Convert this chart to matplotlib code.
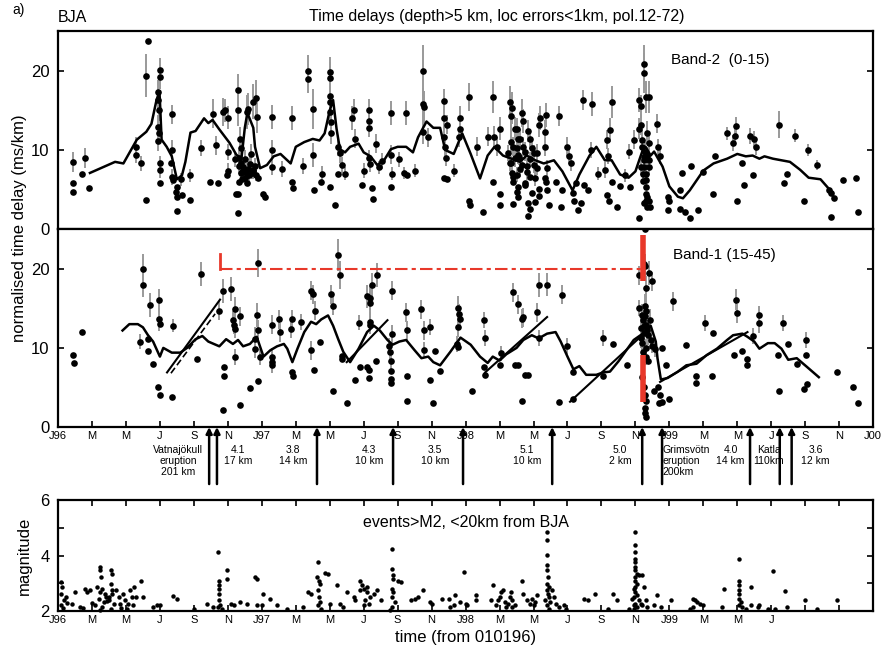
import numpy as np
import matplotlib
matplotlib.use('Agg')
import matplotlib.pyplot as plt

plt.rcParams['font.family'] = ['Liberation Sans', 'DejaVu Sans']

# time axis in months since 01.01.1996
xtick_pos = list(range(0, 49, 2))
xtick_lab = ['J96', 'M', 'M', 'J', 'S', 'N', 'J97', 'M', 'M', 'J', 'S', 'N',
             'J98', 'M', 'M', 'J', 'S', 'N', 'J99', 'M', 'M', 'J', 'S', 'N', 'J00']
xtick_lab_mag = xtick_lab[:22] + ['', '', '']

# Band-2 (0-15): (month, delay, error half length)
band2_pts = [
    (0.87, 5.8, 0), (0.87, 4.7, 0), (0.9, 8.5, 1.3), (1.4, 7.0, 0), (1.6, 9.0, 1.3), (1.8, 5.2, 0),
    (4.6, 9.4, 1.0), (4.6, 10.4, 1.2), (4.9, 8.3, 1.0), (5.2, 19.4, 2.7), (5.3, 23.8, 0), (5.2, 3.7, 0),
    (5.9, 17.3, 1.5), (5.9, 16.3, 1.5), (5.95, 15.1, 1.5), (6.0, 20.1, 1.5), (6.0, 19.2, 1.5),
    (5.9, 12.9, 1.5), (5.95, 12.1, 1.2), (5.9, 11.1, 1.2), (6.0, 8.3, 1.0), (6.0, 7.5, 1.0), (6.0, 5.8, 0),
    (6.7, 14.5, 1.2), (6.7, 10.0, 1.2), (6.65, 8.3, 0), (6.7, 6.6, 1.0), (6.75, 6.2, 0),
    (7.0, 5.3, 0), (7.0, 4.1, 0), (7.0, 2.3, 0), (6.95, 4.7, 0), (7.25, 6.3, 0.8), (7.3, 4.3, 0),
    (7.8, 6.8, 0.8), (7.75, 3.7, 0), (8.4, 10.2, 1.0), (8.95, 6.0, 0), (9.4, 5.8, 0), (9.3, 10.6, 1.2),
    (9.1, 14.6, 1.8), (9.7, 14.8, 1.8), (9.85, 15.0, 1.5),
    (10.0, 14.1, 1.5), (10.0, 9.7, 1.0), (10.0, 7.4, 1.0), (9.95, 6.9, 0),
    (10.6, 15.0, 2.0), (10.6, 17.6, 2.0), (10.6, 4.5, 0), (10.6, 2.1, 0),
    (10.7, 11.4, 1.5), (10.75, 10.2, 1.2), (10.65, 9.0, 1.0), (10.8, 8.4, 1.0), (10.9, 7.8, 1.0),
    (10.85, 7.2, 0.8), (11.0, 8.8, 1.2), (11.0, 6.5, 0.8), (11.1, 5.8, 0), (11.2, 7.6, 1.0),
    (11.3, 8.2, 1.0), (11.35, 9.5, 1.2), (11.5, 7.3, 1.0), (11.6, 8.0, 1.0), (11.65, 6.9, 0.8),
    (10.45, 8.8, 1.0), (10.65, 8.0, 1.0), (10.75, 7.1, 0.8), (11.05, 7.5, 0.8), (11.25, 6.9, 0.8),
    (11.45, 7.1, 0.8), (10.85, 6.3, 0), (11.8, 6.5, 0), (10.5, 4.4, 0), (10.65, 5.9, 0),
    (11.1, 14.8, 2.2), (11.2, 15.2, 2.0), (11.5, 16.1, 2.2), (11.65, 16.6, 2.2), (11.7, 14.2, 2.0),
    (11.1, 6.9, 0), (11.5, 7.5, 0), (12.1, 4.5, 0), (12.2, 4.1, 0),
    (12.6, 14.2, 1.5), (12.6, 10.0, 1.2), (12.6, 7.9, 1.0), (13.2, 7.6, 1.0),
    (13.8, 14.0, 1.5), (13.8, 6.0, 0), (13.85, 5.2, 0), (14.4, 8.0, 1.0),
    (14.7, 20.0, 2.0), (14.75, 19.0, 1.8), (15.0, 15.2, 2.5), (15.0, 9.4, 1.5), (15.05, 5.0, 0),
    (15.5, 6.0, 0), (15.55, 7.0, 1.0),
    (16.0, 19.8, 2.0), (16.0, 19.1, 2.0), (16.0, 16.8, 2.0), (16.0, 16.0, 1.8), (16.0, 14.8, 1.8),
    (16.05, 13.5, 1.5), (16.05, 12.2, 1.5), (16.0, 5.3, 0), (16.3, 3.0, 0),
    (16.5, 10.4, 1.2), (16.6, 9.6, 1.2), (16.7, 8.1, 1.0), (16.5, 7.0, 0), (16.9, 7.0, 0.8),
    (17.3, 14.0, 1.5), (17.4, 15.0, 1.5), (17.5, 11.4, 1.2), (17.9, 5.6, 0), (18.0, 7.4, 1.0),
    (18.3, 15.0, 1.5), (18.3, 13.7, 1.5), (18.3, 12.8, 1.2), (18.3, 9.0, 1.0), (18.4, 8.2, 1.0),
    (18.5, 5.2, 0), (18.55, 3.8, 0), (18.7, 10.8, 1.2), (18.9, 7.8, 0.8), (19.1, 8.6, 1.0),
    (19.6, 14.7, 1.5), (19.6, 9.4, 1.2), (19.65, 7.0, 0.8), (19.6, 5.3, 0),
    (20.1, 8.8, 1.0), (20.4, 7.1, 0.8), (20.5, 14.7, 1.5), (20.55, 6.8, 0), (21.0, 7.4, 0.8),
    (21.5, 20.0, 3.2), (21.5, 15.8, 2.0), (21.55, 15.4, 2.0), (21.5, 12.3, 1.5), (21.8, 11.6, 1.2),
    (22.7, 16.2, 1.5), (22.7, 14.1, 1.5), (22.75, 6.5, 0), (22.75, 11.7, 1.2), (22.8, 10.4, 1.2),
    (22.9, 13.2, 1.2), (22.85, 9.0, 1.0), (23.3, 7.4, 0.8), (22.9, 6.3, 0),
    (23.7, 14.0, 1.5), (23.65, 12.7, 1.3), (23.6, 11.6, 1.2),
    (24.2, 16.7, 1.8), (24.25, 3.0, 0), (24.2, 3.6, 0), (24.7, 10.4, 1.2), (25.0, 2.2, 0),
    (25.3, 11.7, 1.2), (25.6, 6.0, 0), (25.6, 16.7, 2.0), (25.7, 11.7, 1.3), (25.85, 10.4, 1.2),
    (26.0, 3.0, 0), (26.0, 12.7, 1.5), (26.0, 4.5, 0),
    (26.6, 16.1, 2.0), (26.75, 15.3, 2.0), (26.65, 14.3, 2.0), (26.9, 12.7, 1.5), (27.1, 11.4, 1.5),
    (27.0, 10.2, 1.3), (27.1, 9.4, 1.2), (27.3, 8.1, 1.0), (27.0, 6.9, 1.0), (27.1, 5.3, 0),
    (27.1, 4.0, 0), (26.8, 3.2, 0), (27.3, 14.7, 1.8), (27.4, 13.7, 1.5),
    (27.8, 11.4, 1.3), (27.9, 10.2, 1.2), (28.0, 8.1, 1.0), (28.1, 6.5, 1.0), (28.3, 5.1, 0),
    (28.4, 14.0, 1.5), (28.35, 13.2, 1.5), (28.1, 3.4, 0), (27.7, 1.7, 0), (27.8, 2.5, 0),
    (26.7, 11.0, 1.3), (26.9, 9.0, 1.2), (27.2, 7.6, 1.0), (27.5, 9.8, 1.2), (27.6, 7.2, 1.0),
    (27.7, 12.4, 1.4), (28.2, 9.6, 1.2), (26.6, 8.4, 1.0), (26.8, 6.0, 0), (27.5, 5.6, 0),
    (27.9, 4.6, 0), (28.3, 4.2, 0),
    (26.8, 10.4, 1.2), (27.0, 12.6, 1.4), (27.2, 11.4, 1.3), (26.7, 8.3, 1.0), (26.75, 7.1, 0.8),
    (27.15, 9.1, 1.0), (27.4, 10.4, 1.2), (26.5, 9.6, 1.0), (27.6, 8.0, 1.0), (27.8, 8.8, 1.0),
    (28.0, 9.6, 1.0), (28.2, 7.7, 0.8), (26.8, 6.6, 0), (27.5, 5.8, 0), (27.8, 6.6, 0),
    (27.0, 4.7, 0), (27.7, 3.3, 0), (28.7, 6.4, 0), (28.75, 6.0, 0), (28.8, 4.9, 0),
    (28.7, 12.3, 1.5), (28.75, 14.4, 1.5), (28.7, 10.4, 1.2), (28.8, 7.7, 1.0), (28.9, 3.0, 0),
    (29.3, 6.0, 0), (29.5, 14.3, 1.3), (29.6, 2.8, 0), (29.65, 5.0, 0),
    (30.0, 10.4, 1.2), (30.1, 9.2, 1.0), (30.2, 8.3, 1.0), (30.3, 4.6, 0), (30.4, 3.6, 0), (30.5, 5.8, 0),
    (30.6, 2.4, 0), (30.8, 3.3, 0), (30.9, 16.3, 1.3), (31.0, 5.6, 0), (31.2, 5.0, 0),
    (31.45, 15.8, 1.5), (31.4, 10.0, 1.0), (31.8, 7.0, 0.8),
    (32.35, 4.3, 0), (32.45, 3.6, 0), (32.6, 16.1, 2.0), (32.5, 12.5, 1.5), (32.3, 11.3, 1.2),
    (32.4, 9.2, 1.0), (32.2, 7.5, 1.0), (32.6, 6.0, 0),
    (32.9, 2.8, 0), (33.1, 5.5, 0), (33.4, 6.8, 0.8), (33.6, 9.8, 1.0), (33.7, 5.3, 0), (33.9, 11.3, 1.2),
    (34.2, 1.4, 0), (34.2, 16.3, 1.5), (34.3, 15.5, 1.5), (34.3, 13.2, 1.3), (34.2, 12.7, 1.3),
    (34.5, 19.7, 2.5), (34.5, 20.8, 2.5),
    (34.4, 11.3, 1.2), (34.55, 9.8, 1.2), (34.5, 7.9, 1.0), (34.45, 7.0, 1.0), (34.6, 5.3, 0),
    (34.6, 4.5, 0), (34.6, 3.6, 0), (34.7, 2.8, 0), (34.5, 8.7, 1.0), (34.65, 6.2, 0.8),
    (34.4, 10.4, 1.2), (34.5, 9.1, 1.0), (34.35, 7.8, 1.0), (34.6, 7.0, 0.8), (34.45, 6.1, 0),
    (34.7, 4.1, 0), (34.5, 3.3, 0), (34.8, 8.7, 1.0),
    (34.6, 16.7, 2.0), (34.8, 16.7, 2.0),
    (34.7, 12.2, 1.5), (34.8, 10.9, 1.3), (34.7, 9.2, 1.2), (34.8, 7.9, 1.0), (34.8, 3.6, 0), (34.85, 2.8, 0),
    (35.25, 13.3, 1.2), (35.35, 10.4, 1.0), (35.45, 9.2, 1.0),
    (35.9, 4.0, 0), (36.0, 3.5, 0), (35.9, 2.4, 0),
    (36.6, 4.9, 0), (36.6, 2.6, 0), (36.9, 2.2, 0), (37.2, 1.4, 0), (36.75, 7.1, 0), (37.3, 8.0, 0),
    (37.7, 2.4, 0), (38.0, 7.2, 0), (38.55, 4.5, 0), (38.7, 9.2, 0), (39.4, 12.1, 0.8),
    (39.75, 10.9, 1.0), (39.85, 11.8, 1.2), (39.95, 13.0, 1.2), (40.0, 3.6, 0), (40.3, 8.3, 0),
    (40.4, 5.6, 0), (40.75, 11.8, 1.0), (41.0, 11.4, 1.0), (41.1, 10.4, 1.0), (40.95, 6.8, 0),
    (42.45, 13.2, 1.7), (42.75, 5.8, 0), (42.9, 7.0, 0), (43.4, 11.8, 0.8), (43.95, 3.5, 0),
    (44.15, 10.0, 0.8), (44.7, 8.1, 0.6), (45.4, 5.0, 0), (45.5, 4.6, 0), (45.7, 3.9, 0), (45.5, 1.5, 0),
    (46.2, 6.2, 0), (47.0, 6.4, 0), (47.1, 2.2, 0),
]

band2_mean_t = [1.88, 3.36, 3.85, 4.64, 5.2, 5.5, 5.8, 5.97, 6.0, 6.1, 6.4, 6.7, 7.0, 7.3, 7.5, 7.8,
                8.1, 8.6, 8.85, 9.1, 9.5, 10.1, 10.5, 10.8, 11.0, 11.15, 11.5, 11.6, 11.9, 12.3,
                12.7, 13.1, 13.7, 14.0, 14.5, 15.0, 15.4, 15.7, 16.0, 16.2, 16.4, 16.6, 16.9,
                17.2, 17.7, 18.0, 18.4, 18.8, 19.2, 19.6, 20.0, 20.5, 20.9, 21.2, 21.7, 22.1,
                22.5, 22.8, 23.3, 23.8, 24.3, 24.85, 25.3, 25.7, 26.2, 26.7, 27.2, 27.6, 28.1,
                28.6, 29.2, 29.7, 30.3, 30.7, 31.3, 31.7, 32.2, 32.6, 33.1, 33.6, 34.0, 34.4,
                34.6, 34.9, 35.1, 35.6, 36.0, 36.5, 36.8, 37.2, 38.0, 38.6, 39.4, 40.0, 40.5,
                40.9, 41.3, 41.6, 42.1, 43.1, 43.7, 44.2, 44.9, 45.35]
band2_mean_v = [7.1, 8.5, 8.3, 11.3, 12.3, 13.3, 16.3, 17.4, 16.3, 11.3, 10.4, 9.2, 6.3, 6.8, 8.5, 12.2,
                12.4, 14.0, 13.4, 13.8, 12.6, 10.9, 9.4, 8.9, 12.8, 14.7, 12.8, 10.4, 7.7, 8.1,
                9.2, 9.5, 8.3, 10.4, 11.0, 11.4, 11.2, 12.1, 15.0, 16.3, 12.7, 10.1, 9.7,
                10.4, 10.8, 9.7, 9.2, 8.1, 8.7, 10.1, 10.4, 10.4, 9.7, 11.6, 13.6, 12.8,
                12.8, 10.0, 9.5, 12.1, 9.5, 6.4, 9.3, 10.4, 9.3, 8.9, 8.5, 9.3, 8.7,
                8.3, 8.7, 7.3, 4.9, 6.9, 9.3, 10.4, 8.7, 8.7, 6.9, 6.5, 7.3, 9.8,
                10.4, 9.3, 9.8, 7.9, 5.4, 4.1, 3.9, 4.9, 7.4, 8.3, 8.9, 9.5, 9.2,
                9.3, 8.9, 9.2, 8.9, 8.5, 7.5, 6.5, 6.3, 5.2]

# Band-1 (15-45)
band1_pts = [
    (0.9, 9.1, 0), (0.95, 8.1, 0), (1.4, 12.0, 0), (4.8, 10.8, 1.0), (5.0, 20.0, 1.8), (5.0, 17.9, 1.5),
    (5.3, 11.1, 0), (5.3, 9.6, 0), (5.4, 15.4, 1.5), (5.6, 8.0, 0), (5.9, 5.1, 0), (6.0, 4.1, 0),
    (5.95, 16.0, 1.5), (5.95, 13.6, 1.5), (6.0, 13.0, 0), (6.7, 3.8, 0), (6.8, 12.8, 0.8),
    (8.2, 8.6, 0), (8.4, 19.3, 1.5), (9.5, 14.7, 1.2), (9.7, 17.2, 1.5), (9.75, 7.6, 0), (9.75, 6.4, 0),
    (9.7, 2.2, 0), (10.2, 17.4, 1.5), (10.3, 13.5, 1.2), (10.35, 12.9, 1.2), (10.4, 12.4, 1.2),
    (10.4, 14.9, 1.5), (10.4, 8.9, 1.0), (10.7, 14.0, 1.2), (10.7, 2.8, 0), (11.3, 4.9, 0),
    (11.6, 11.1, 1.5), (11.6, 9.9, 1.2), (11.7, 14.2, 1.5), (11.8, 20.7, 1.8), (11.8, 12.3, 1.2),
    (11.9, 8.8, 1.0), (11.8, 5.8, 0), (12.6, 12.9, 1.2), (12.6, 8.8, 1.2), (12.6, 8.2, 1.0),
    (12.6, 7.8, 1.0), (13.0, 13.6, 1.2), (13.1, 12.0, 1.2), (13.7, 12.4, 1.2), (13.75, 13.6, 1.2),
    (13.75, 7.0, 0), (13.85, 6.4, 0), (14.3, 13.3, 1.0), (14.9, 17.2, 1.2), (15.0, 16.8, 1.2),
    (14.9, 9.7, 1.2), (15.05, 7.2, 0), (15.15, 14.7, 1.2), (15.4, 10.8, 0), (16.1, 16.8, 1.2),
    (16.2, 15.3, 1.2), (16.2, 4.5, 0), (16.5, 21.7, 2.0), (16.6, 19.2, 1.8), (16.7, 8.6, 0),
    (16.7, 9.0, 0), (17.0, 3.1, 0), (17.5, 6.0, 0), (17.7, 13.2, 1.0), (17.8, 7.6, 0),
    (18.2, 7.6, 0), (18.3, 6.2, 0), (18.3, 7.2, 0), (18.2, 16.5, 1.5), (18.35, 16.3, 1.5),
    (18.4, 15.7, 1.5), (18.35, 13.3, 1.2), (18.35, 12.9, 1.2), (18.5, 18.0, 1.5), (18.7, 8.4, 0),
    (18.8, 19.2, 1.5), (19.5, 10.3, 1.0), (19.55, 9.5, 1.0), (19.6, 8.3, 1.0), (19.6, 7.1, 0),
    (19.6, 5.6, 0), (19.6, 6.1, 0), (19.65, 17.2, 1.2), (19.65, 11.7, 1.2),
    (20.5, 14.5, 1.2), (20.55, 12.2, 1.2), (20.55, 6.4, 0), (20.55, 3.3, 0),
    (21.4, 14.9, 1.2), (21.55, 12.2, 1.2), (21.55, 9.7, 1.0), (21.9, 12.6, 1.0), (21.9, 6.0, 0),
    (22.1, 3.1, 0), (22.2, 9.6, 0), (22.5, 7.1, 0),
    (23.55, 15.1, 1.5), (23.6, 14.3, 1.3), (23.65, 13.7, 1.2), (23.55, 12.6, 1.2), (23.5, 10.5, 1.0),
    (23.55, 10.1, 0), (24.4, 4.6, 0), (25.1, 13.5, 1.0), (25.15, 11.2, 1.0), (25.1, 7.6, 0),
    (25.15, 6.6, 0), (26.1, 9.3, 1.0), (26.0, 7.9, 0), (26.8, 17.0, 1.2), (27.1, 15.5, 1.2),
    (27.1, 7.9, 0), (26.9, 7.9, 0), (27.3, 13.7, 1.2), (27.4, 13.9, 1.2), (27.5, 6.6, 0),
    (27.7, 6.6, 0), (27.3, 3.3, 0), (28.2, 14.5, 1.2), (28.3, 17.9, 1.5), (28.8, 18.0, 1.5),
    (28.35, 11.3, 1.0), (29.5, 3.2, 0), (29.7, 16.7, 1.2), (30.0, 10.2, 1.0), (30.35, 7.0, 0),
    (30.35, 3.6, 0), (32.1, 11.3, 1.0), (32.1, 6.4, 0), (32.7, 10.5, 0), (33.5, 7.9, 0),
    (34.2, 15.0, 1.0), (34.2, 19.2, 1.2),
    (34.55, 25.0, 0), (34.5, 20.6, 1.5), (34.55, 20.4, 1.5), (34.8, 19.5, 1.5), (35.0, 18.4, 1.2),
    (34.6, 17.6, 1.5), (34.55, 15.3, 1.5), (34.55, 14.0, 1.5), (34.45, 13.5, 1.5), (34.65, 12.9, 1.4),
    (34.85, 13.5, 1.4), (34.5, 11.9, 1.3), (34.35, 12.5, 1.3), (34.3, 11.2, 1.2), (34.75, 11.6, 1.2),
    (34.9, 11.0, 1.2), (35.0, 10.3, 1.0), (35.15, 9.8, 1.0), (34.4, 10.6, 1.2), (34.6, 10.0, 1.1),
    (34.7, 12.2, 1.3), (34.45, 9.5, 1.0), (34.6, 8.8, 1.0), (34.75, 8.3, 0), (34.5, 12.8, 1.4),
    (34.65, 14.6, 1.5), (34.4, 14.1, 1.5),
    (34.4, 6.3, 0), (34.5, 5.0, 0), (34.55, 4.1, 0), (34.65, 3.3, 0), (34.55, 2.4, 0), (34.55, 1.8, 0),
    (34.6, 1.3, 0), (35.1, 4.5, 0), (35.35, 5.1, 0), (35.45, 4.0, 0), (35.4, 3.1, 0), (35.55, 3.2, 0),
    (36.0, 3.6, 0), (35.55, 10.0, 0), (35.8, 7.9, 0), (36.2, 15.9, 1.2), (37.0, 10.4, 0),
    (37.55, 6.4, 0), (37.55, 5.6, 0), (38.1, 13.1, 1.0), (38.5, 6.5, 0), (38.55, 11.9, 0),
    (39.8, 9.1, 0), (39.95, 16.1, 1.3), (40.0, 14.4, 1.2), (40.3, 9.6, 0), (40.6, 8.6, 0),
    (40.6, 7.8, 0), (40.9, 11.5, 1.0), (41.3, 14.1, 1.2), (41.25, 13.1, 1.2), (42.45, 4.6, 0),
    (42.4, 9.1, 0), (42.7, 13.1, 1.0), (43.0, 10.5, 0), (43.5, 8.0, 0), (43.95, 4.8, 0),
    (44.1, 5.5, 0), (44.05, 11.0, 1.0), (44.05, 9.1, 0), (45.9, 7.0, 0), (46.8, 5.0, 0), (47.1, 3.1, 0),
]

band1_mean_t = [3.8, 4.2, 4.7, 5.0, 5.3, 5.6, 6.0, 6.2, 6.7, 7.2, 7.6, 8.1, 8.5, 8.85, 9.5, 9.9,
                10.3, 10.6, 10.9, 11.3, 11.7, 12.1, 12.5, 12.9, 13.3, 13.5, 13.8, 14.1, 14.5,
                14.9, 15.2, 15.5, 15.9, 16.2, 16.5, 16.8, 17.2, 17.7, 18.2, 18.6, 18.95, 19.4,
                19.7, 20.1, 20.5, 21.0, 21.4, 21.8, 22.1, 22.5, 23.1, 23.7, 24.3, 24.85, 25.3,
                25.6, 26.0, 26.4, 27.0, 27.4, 27.9, 28.3, 28.8, 29.3, 29.6, 30.0, 30.35, 30.7,
                31.1, 31.7, 32.1, 32.5, 33.0, 33.4, 33.9, 34.3, 34.6, 34.9, 35.2, 35.3, 35.5,
                35.9, 36.5, 37.0, 37.6, 38.2, 38.8, 39.4, 39.75, 40.3, 40.6, 41.0, 41.3, 41.8,
                42.2, 42.6, 43.0, 43.5, 44.1, 44.8]
band1_mean_v = [12.2, 13.0, 13.0, 12.6, 11.6, 10.8, 8.9, 10.0, 9.4, 9.4, 10.0, 11.1, 11.5, 10.8, 10.2, 11.1,
                10.5, 11.0, 10.2, 10.5, 11.4, 8.9, 9.7, 10.2, 10.5, 9.9, 8.2, 9.9, 12.0,
                13.3, 13.0, 13.6, 14.1, 12.8, 11.1, 9.5, 8.2, 9.9, 12.0, 12.8, 12.2, 11.0,
                10.4, 10.8, 11.0, 9.7, 8.7, 8.9, 8.2, 7.8, 9.5, 11.3, 10.4, 8.9, 8.1,
                8.9, 8.4, 9.2, 10.0, 11.0, 11.6, 11.2, 11.8, 12.0, 10.8, 8.9, 7.3, 7.7,
                6.6, 6.6, 6.9, 7.0, 8.3, 9.5, 11.0, 11.6, 12.0, 12.8, 10.8, 8.7, 6.0,
                6.2, 7.0, 7.8, 8.0, 9.1, 9.9, 11.0, 11.6, 11.8, 11.4, 10.8, 9.9, 10.6,
                10.6, 9.9, 8.5, 8.7, 7.6, 6.3]

# straight fits on Band-1: (t0, v0, t1, v1)
fit_lines = [(6.42, 6.9, 9.54, 16.1), (17.0, 8.2, 19.4, 13.5), (25.15, 6.9, 28.8, 13.9),
             (30.15, 3.2, 34.3, 11.4), (35.45, 5.7, 40.6, 12.0)]
fit_dashed = (6.65, 6.8, 9.25, 14.3)

# red markers on Band-1
red_start_t = 9.54
red_end_t = 34.45
red_level = 20.0
red_bar_upper = (18.4, 24.3)
red_bar_lower = (3.2, 9.1)

# events shown by arrows under Band-1
arrow_t = [8.9, 9.36, 15.25, 19.73, 23.85, 29.1, 34.4, 35.57, 40.75, 42.5, 43.2]
event_labels = [(7.07, 'Vatnajökull\neruption\n201 km', 'center'), (10.6, '4.1\n17 km', 'center'),
                (13.85, '3.8\n14 km', 'center'), (18.3, '4.3\n10 km', 'center'),
                (22.2, '3.5\n10 km', 'center'), (27.6, '5.1\n10 km', 'center'),
                (33.1, '5.0\n2 km', 'center'), (35.6, 'Grimsvötn\neruption\n200km', 'left'),
                (39.6, '4.0\n14 km', 'center'), (41.85, 'Katla\n110km', 'center'),
                (44.6, '3.6\n12 km', 'center')]

# events > M2 within 20 km
mag_pts = [
    (0.2, 3.05), (0.25, 2.87), (0.2, 2.63), (0.35, 2.39), (0.15, 2.2), (0.45, 2.5), (0.3, 2.1), (0.5, 2.3),
    (1.0, 2.7), (0.8, 2.25), (1.3, 2.15), (1.6, 2.8), (1.7, 2.7), (1.9, 2.75), (1.5, 2.1), (2.0, 2.3),
    (2.3, 2.87), (2.5, 3.6), (2.5, 3.47), (2.55, 3.23), (2.6, 2.8), (2.5, 2.7), (2.4, 2.45), (2.7, 2.33),
    (2.2, 2.2), (2.8, 2.5), (2.6, 2.15), (2.45, 2.05), (2.75, 2.6), (2.9, 2.35),
    (3.1, 3.47), (3.2, 3.35), (3.1, 2.99), (3.2, 2.75), (3.0, 2.5), (3.3, 2.27), (3.1, 2.08), (3.2, 2.6), (3.0, 2.4),
    (3.4, 2.75), (3.6, 2.5), (3.65, 2.27), (3.85, 2.63), (3.95, 2.39), (3.7, 2.1),
    (4.25, 2.75), (4.35, 2.5), (4.15, 2.27), (4.05, 2.08), (4.5, 2.87), (4.6, 2.5), (4.4, 2.2),
    (4.9, 3.1), (5.0, 2.5), (5.6, 2.15), (5.8, 2.2), (6.0, 2.2), (6.8, 2.55), (7.0, 2.45),
    (8.0, 2.08), (8.75, 2.27), (9.1, 2.15),
    (9.44, 4.13), (9.5, 3.1), (9.5, 2.93), (9.5, 2.8), (9.5, 2.63), (9.5, 2.39), (9.55, 2.2), (9.65, 2.08), (9.4, 2.15),
    (9.97, 3.47), (9.97, 3.17), (10.2, 2.27), (10.35, 2.2), (10.7, 2.33), (11.1, 2.27),
    (11.6, 3.23), (11.7, 3.17), (11.7, 2.2), (12.0, 2.2), (12.1, 2.63), (12.5, 2.45), (12.9, 2.2),
    (13.5, 2.08), (14.4, 2.15), (14.7, 2.69), (14.9, 2.63),
    (15.3, 3.77), (15.25, 3.23), (15.35, 3.1), (15.4, 2.99), (15.3, 2.75), (15.35, 2.5), (15.4, 2.33),
    (15.3, 2.2), (15.5, 2.08), (15.7, 3.37), (15.9, 3.35),
    (16.0, 2.27), (16.4, 2.93), (16.6, 2.27), (16.8, 2.15), (17.0, 2.69), (17.4, 2.5), (17.5, 2.39),
    (17.8, 3.1), (17.9, 2.93), (18.0, 2.8), (17.8, 2.75),
    (18.2, 2.69), (18.2, 2.87), (18.4, 2.5), (18.1, 2.39), (18.3, 2.27), (18.0, 2.2),
    (18.6, 2.63), (18.8, 2.75), (19.0, 2.39),
    (19.65, 4.25), (19.65, 3.53), (19.75, 3.29), (19.75, 3.17), (19.65, 2.8), (19.75, 2.69), (19.65, 2.5),
    (19.85, 2.33), (19.65, 2.14), (19.55, 2.05), (20.0, 3.1), (20.2, 3.05),
    (20.8, 2.39), (21.0, 2.45), (21.2, 2.5), (21.5, 2.77), (21.9, 2.33), (22.0, 2.27),
    (22.6, 2.45), (23.0, 2.45), (23.1, 2.15), (23.3, 2.2), (23.4, 2.57), (23.9, 3.41),
    (23.7, 2.33), (24.0, 2.27), (24.1, 2.2), (24.6, 2.57), (24.6, 2.39), (25.5, 2.39), (25.6, 2.93),
    (25.8, 2.2), (25.9, 2.39), (26.0, 2.5), (26.1, 2.69), (26.2, 2.75), (26.3, 2.33), (26.4, 2.15),
    (26.5, 2.27), (26.6, 2.5), (26.7, 2.69), (26.75, 2.39), (26.75, 2.15), (26.9, 2.2),
    (27.3, 3.1), (27.4, 2.63), (27.6, 2.39), (27.8, 2.27), (27.9, 2.45), (28.0, 2.2), (28.1, 2.33), (28.2, 2.57),
    (28.8, 4.86), (28.8, 4.55), (28.8, 4.01), (28.8, 3.65), (28.8, 3.47), (28.85, 3.23), (28.8, 2.99),
    (28.9, 2.87), (28.8, 2.75), (28.85, 2.63), (28.9, 2.5), (28.7, 2.39), (29.0, 2.33), (28.8, 2.2), (28.9, 2.08),
    (29.1, 2.75), (29.2, 2.5), (29.3, 2.27), (29.5, 2.15), (29.8, 2.2), (29.9, 2.08),
    (31.0, 2.45), (31.2, 2.39), (31.6, 2.63), (32.4, 2.08), (32.7, 2.63), (32.9, 2.39),
    (33.6, 2.08), (33.8, 2.45), (33.9, 2.2),
    (34.0, 4.86), (34.0, 4.37), (34.0, 4.13), (34.0, 3.89), (34.0, 3.77), (34.0, 3.59), (34.0, 3.47),
    (34.1, 3.35), (34.0, 3.23), (34.2, 3.29), (34.0, 3.1), (34.1, 2.99), (34.0, 2.87), (33.9, 2.81),
    (34.0, 2.69), (34.1, 2.57), (33.9, 2.5), (34.2, 2.39), (34.0, 2.27), (34.1, 2.15), (33.9, 2.08),
    (34.4, 3.29), (34.5, 2.87), (34.6, 2.39), (34.3, 2.27), (34.4, 2.2), (34.7, 2.15),
    (35.3, 2.57), (35.1, 2.2), (35.5, 2.15), (36.1, 2.39),
    (37.4, 2.45), (37.5, 2.39), (37.6, 2.33), (37.8, 2.27), (38.0, 2.2), (37.4, 2.15), (37.2, 2.08),
    (39.2, 2.81), (39.1, 2.15),
    (40.1, 3.89), (40.1, 3.1), (40.1, 2.93), (40.1, 2.75), (40.1, 2.63), (40.1, 2.45), (40.2, 2.33),
    (40.1, 2.2), (40.3, 2.15), (40.5, 2.08), (40.8, 2.2), (40.8, 2.87),
    (41.2, 2.15), (41.3, 2.2), (41.8, 2.08), (42.2, 2.08), (42.1, 3.45), (42.8, 2.71), (42.9, 2.15),
    (44.0, 2.41), (44.7, 2.08), (45.9, 2.39),
]

b2 = np.array(band2_pts)
b1 = np.array(band1_pts)
mg = np.array(mag_pts)

fig = plt.figure(figsize=(8.87, 6.51), dpi=100)
L, W = 0.0654, 0.919
ax1 = fig.add_axes([L, 0.648, W, 0.304])
ax2 = fig.add_axes([L, 0.344, W, 0.304])
ax3 = fig.add_axes([L, 0.0614, W, 0.1705])

def band_panel(ax, pts, mt, mv):
    m = pts[:, 2] > 0
    ax.vlines(pts[m, 0], pts[m, 1] - pts[m, 2], pts[m, 1] + pts[m, 2], color='0.6', lw=1.4, zorder=1)
    ax.plot(pts[:, 0], pts[:, 1], 'o', color='k', ms=4.8, mew=0, zorder=3)
    ax.plot(mt, mv, '-', color='k', lw=1.8, zorder=4)
    ax.set_xlim(0, 48)
    ax.set_ylim(0, 25)
    ax.set_yticks([0, 10, 20])
    ax.tick_params(axis='y', direction='in', left=True, right=True, length=4, width=1.2,
                   labelsize=12, pad=6)
    for s in ax.spines.values():
        s.set_linewidth(1.6)

band_panel(ax1, b2, band2_mean_t, band2_mean_v)
ax1.tick_params(axis='x', bottom=False, labelbottom=False)
ax1.text(0.813, 0.853, 'Band-2  (0-15)', transform=ax1.transAxes, fontsize=11, ha='center', va='center')

band_panel(ax2, b1, band1_mean_t, band1_mean_v)
for t0, v0, t1, v1 in fit_lines:
    ax2.plot([t0, t1], [v0, v1], '-', color='k', lw=1.5, zorder=4)
ax2.plot([fit_dashed[0], fit_dashed[2]], [fit_dashed[1], fit_dashed[3]], '--', color='k', lw=1.2,
         dashes=(4, 2), zorder=4)
red = '#e8382a'
ax2.plot([red_start_t, red_start_t], [red_level, red_level + 1.9], color=red, lw=2, zorder=5)
ax2.plot([red_start_t, red_end_t - 0.15], [red_level, red_level], color=red, lw=1.5,
         dashes=(6, 2, 2, 2), zorder=5)
ax2.plot([red_end_t, red_end_t], red_bar_upper, color=red, lw=4, solid_capstyle='butt', zorder=6)
ax2.plot([red_end_t, red_end_t], red_bar_lower, color=red, lw=4, solid_capstyle='butt', zorder=6)
ax2.text(0.818, 0.87, 'Band-1 (15-45)', transform=ax2.transAxes, fontsize=11, ha='center', va='center')
ax2.set_xticks(xtick_pos)
ax2.set_xticklabels(xtick_lab)
ax2.tick_params(axis='x', direction='in', bottom=True, top=False, length=4, width=1.2,
                labelsize=8, pad=3)

for t in arrow_t:
    ax2.annotate('', xy=(t, 0), xytext=(t, -7.2), annotation_clip=False,
                 arrowprops=dict(arrowstyle='-|>', lw=1.8, color='k', mutation_scale=9,
                                 shrinkA=0, shrinkB=0))
for t, lab, ha in event_labels:
    ax2.text(t, -2.3, lab, ha=ha, va='top', fontsize=7.5, linespacing=1.1, clip_on=False)

# magnitude panel
ax3.plot(mg[:, 0], mg[:, 1], 'o', color='k', ms=3.2, mew=0, clip_on=False)
ax3.set_xlim(0, 48)
ax3.set_ylim(2, 6)
ax3.set_yticks([2, 4, 6])
ax3.set_yticks([3, 5], minor=True)
ax3.set_xticks(xtick_pos)
ax3.set_xticklabels(xtick_lab_mag)
ax3.tick_params(axis='both', which='both', direction='in', top=True, right=True, length=4, width=1.2)
ax3.tick_params(axis='y', labelsize=12, pad=6)
ax3.tick_params(axis='x', labelsize=8, pad=3)
for s in ax3.spines.values():
    s.set_linewidth(1.6)
ax3.text(0.5, 0.8, 'events>M2, <20km from BJA', transform=ax3.transAxes, fontsize=11.5,
         ha='center', va='center')
ax3.set_xlabel('time (from 010196)', fontsize=12, labelpad=2)
ax3.xaxis.set_label_coords(0.5, -0.17)
ax3.set_ylabel('magnitude', fontsize=12, labelpad=6)

fig.text(0.022, 1 - 228 / 651, 'normalised time delay (ms/km)', rotation=90, fontsize=12,
         ha='center', va='center')
fig.text(0.065, 1 - 17 / 651, 'BJA', fontsize=11.5, ha='left', va='center')
fig.text(0.56, 1 - 17 / 651, 'Time delays (depth>5 km, loc errors<1km, pol.12-72)', fontsize=11.5,
         ha='center', va='center')
fig.text(0.014, 0.995, 'a)', fontsize=10, ha='left', va='top')

fig.savefig('out.png', dpi=100)
